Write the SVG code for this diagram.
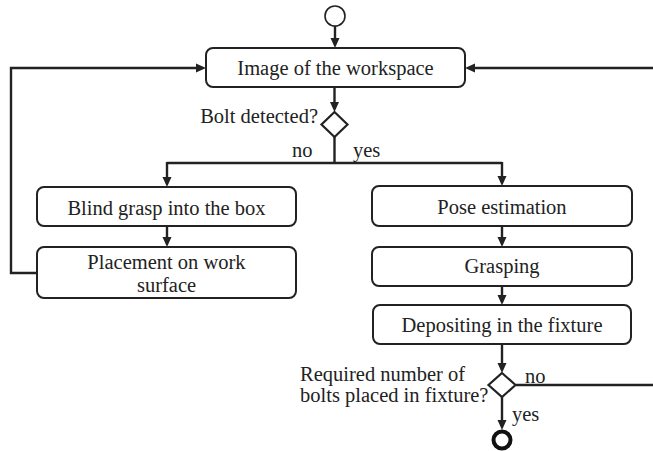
<svg xmlns="http://www.w3.org/2000/svg" width="653" height="451" viewBox="0 0 653 451">
<style>
.box{fill:#fff;stroke:#222;stroke-width:2}
.dec{fill:#fff;stroke:#222;stroke-width:2.2}
.ln{fill:none;stroke:#222;stroke-width:2.4}
.ah{fill:#222;stroke:none}
</style>
<rect width="653" height="451" fill="#fff"/>
<g id="connectors">
<path class="ln" d="M335,26 V40"/>
<path class="ln" d="M334.5,87 V104"/>
<path class="ln" d="M334.5,137 V163"/>
<path class="ln" d="M167,163 H502"/>
<path class="ln" d="M167,162 V179"/>
<path class="ln" d="M502,162 V178"/>
<path class="ln" d="M167,226 V239"/>
<path class="ln" d="M37,273 H11 V68 H198"/>
<path class="ln" d="M502,226 V239"/>
<path class="ln" d="M502,286 V297"/>
<path class="ln" d="M502,344 V365"/>
<path class="ln" d="M516,385 H657 V68 H473"/>
<path class="ln" d="M502,397 V422"/>
<polygon class="ah" points="330.5,38 339.5,38 335,48"/>
<polygon class="ah" points="330,102 339,102 334.5,112"/>
<polygon class="ah" points="162.5,177 171.5,177 167,187"/>
<polygon class="ah" points="497.5,176 506.5,176 502,186"/>
<polygon class="ah" points="162.5,237 171.5,237 167,247"/>
<polygon class="ah" points="196,63.5 196,72.5 206,68"/>
<polygon class="ah" points="497.5,237 506.5,237 502,247"/>
<polygon class="ah" points="497.5,295 506.5,295 502,305"/>
<polygon class="ah" points="497.5,363 506.5,363 502,373"/>
<polygon class="ah" points="475,63.5 475,72.5 465,68"/>
<polygon class="ah" points="497.5,420 506.5,420 502,430"/>
</g>
<g id="start"><circle cx="335" cy="16" r="10" fill="#fff" stroke="#222" stroke-width="1.6"/></g>
<g id="image"><rect class="box" x="206" y="48" width="259" height="39" rx="7"/><text font-family="Liberation Serif" font-size="20.5" fill="#222" text-anchor="middle" x="335.5" y="75">Image of the workspace</text></g>
<g id="bolt-detected"><path class="dec" d="M334.5,112 L347.5,124.5 L334.5,137 L321.5,124.5 z"/><text font-family="Liberation Serif" font-size="20.5" fill="#222" x="318" y="123" text-anchor="end">Bolt detected?</text><text font-family="Liberation Serif" font-size="20.5" fill="#222" x="292" y="157">no</text><text font-family="Liberation Serif" font-size="20.5" fill="#222" x="353" y="157">yes</text></g>
<g id="blind"><rect class="box" x="37" y="187" width="259" height="39" rx="7"/><text font-family="Liberation Serif" font-size="20.5" fill="#222" text-anchor="middle" x="166.5" y="215">Blind grasp into the box</text></g>
<g id="placement"><rect class="box" x="37" y="247" width="259" height="51" rx="7"/><text font-family="Liberation Serif" font-size="20.5" fill="#222" text-anchor="middle" x="166.5" y="269">Placement on work</text><text font-family="Liberation Serif" font-size="20.5" fill="#222" text-anchor="middle" x="166.5" y="292">surface</text></g>
<g id="pose"><rect class="box" x="372" y="186" width="260" height="40" rx="7"/><text font-family="Liberation Serif" font-size="20.5" fill="#222" text-anchor="middle" x="502" y="214">Pose estimation</text></g>
<g id="grasping"><rect class="box" x="372" y="247" width="260" height="39" rx="7"/><text font-family="Liberation Serif" font-size="20.5" fill="#222" text-anchor="middle" x="502" y="273">Grasping</text></g>
<g id="depositing"><rect class="box" x="373" y="305" width="258" height="39" rx="7"/><text font-family="Liberation Serif" font-size="20.5" fill="#222" text-anchor="middle" x="502" y="332">Depositing in the fixture</text></g>
<g id="required"><path class="dec" d="M502,373 L515.5,385 L502,397 L488.5,385 z"/><text font-family="Liberation Serif" font-size="20.5" fill="#222" x="300" y="381">Required number of</text><text font-family="Liberation Serif" font-size="20.5" fill="#222" x="300" y="402">bolts placed in fixture?</text><text font-family="Liberation Serif" font-size="20.5" fill="#222" x="525" y="383">no</text><text font-family="Liberation Serif" font-size="20.5" fill="#222" x="512" y="421">yes</text></g>
<g id="end"><circle cx="502" cy="440" r="8.5" fill="#fff" stroke="#111" stroke-width="4"/></g>
</svg>
